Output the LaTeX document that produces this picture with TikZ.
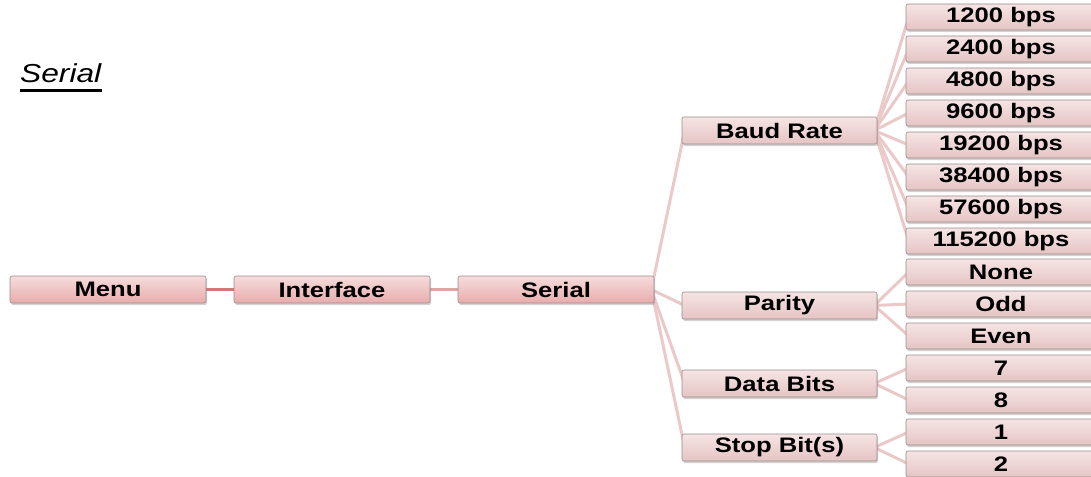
\documentclass[tikz,border=0pt]{standalone}
\usepackage{fontspec}
\setmainfont{Liberation Sans}
\newfontfamily\boxfont[FakeStretch=1.22]{Liberation Sans}
\newfontfamily\titlefont[FakeStretch=1.22]{Liberation Sans}
\usetikzlibrary{shadows,backgrounds}
\definecolor{boxtop}{HTML}{F6E4E4}
\definecolor{boxbot}{HTML}{E6C4C4}
\definecolor{maintop}{HTML}{F6DCDC}
\definecolor{mainbot}{HTML}{E8ACAC}
\definecolor{boxedge}{HTML}{9A8C8C}
\definecolor{linkc}{HTML}{EBC9C9}
\definecolor{linkdark}{HTML}{D07878}
\definecolor{linkmid}{HTML}{E0A4A4}
\tikzset{
  menubox/.style={draw=boxedge, line width=0.6pt, rounded corners=2pt,
    top color=boxtop, bottom color=boxbot, minimum height=27pt, inner sep=0pt,
    font=\boxfont\bfseries\fontsize{21}{21}\selectfont,
    drop shadow={shadow xshift=1pt, shadow yshift=-2pt, opacity=0.35}},
  mainbox/.style={menubox, top color=maintop, bottom color=mainbot, minimum width=196pt},
  midbox/.style={menubox, minimum width=195pt},
  leafbox/.style={menubox, minimum width=190pt, minimum height=26pt},
  link/.style={draw=linkc, line width=3pt},
}
\begin{document}
\begin{tikzpicture}[x=1pt,y=-1pt]
\useasboundingbox (0,0) rectangle (1091,476);
\clip (0,0) rectangle (1091,476);
% title
\node[anchor=base west, inner sep=0pt, font=\titlefont\itshape\fontsize{26}{26}\selectfont] (title) at (20,83) {Serial};
\draw[line width=2.5pt] (20,90.5) -- (102,90.5);
% main chain
\node[mainbox] (menu) at (108,289.5) {Menu};
\node[mainbox] (iface) at (332,289.5) {Interface};
\node[mainbox] (serial) at (556,289.5) {Serial};
% level 2
\node[midbox] (baud) at (779.5,130.5) {Baud Rate};
\node[midbox] (parity) at (779.5,305.5) {Parity};
\node[midbox] (data) at (779.5,383.5) {Data Bits};
\node[midbox] (stop) at (779.5,447.5) {Stop Bit(s)};
% leaves
\node[leafbox] (b1) at (1001,17) {1200 bps};
\node[leafbox] (b2) at (1001,49) {2400 bps};
\node[leafbox] (b3) at (1001,81) {4800 bps};
\node[leafbox] (b4) at (1001,113) {9600 bps};
\node[leafbox] (b5) at (1001,145) {19200 bps};
\node[leafbox] (b6) at (1001,177) {38400 bps};
\node[leafbox] (b7) at (1001,209) {57600 bps};
\node[leafbox] (b8) at (1001,241) {115200 bps};
\node[leafbox] (p1) at (1001,272) {None};
\node[leafbox] (p2) at (1001,304) {Odd};
\node[leafbox] (p3) at (1001,336) {Even};
\node[leafbox] (d1) at (1001,368) {7};
\node[leafbox] (d2) at (1001,400) {8};
\node[leafbox] (s1) at (1001,432) {1};
\node[leafbox] (s2) at (1001,464) {2};
% connectors
\begin{scope}[on background layer]
\fill[white] (0,0) rectangle (1091,476);
\draw[link, draw=linkdark] (menu.east) -- (iface.west);
\draw[link, draw=linkmid] (iface.east) -- (serial.west);
\foreach \c in {baud,parity,data,stop}
  \draw[link] ([xshift=-3pt]serial.east) -- ([xshift=3pt]\c.west);
\foreach \c in {b1,b2,b3,b4,b5,b6,b7,b8}
  \draw[link] ([xshift=-3pt]baud.east) -- ([xshift=3pt]\c.west);
\foreach \c in {p1,p2,p3}
  \draw[link] ([xshift=-3pt]parity.east) -- ([xshift=3pt]\c.west);
\foreach \c in {d1,d2}
  \draw[link] ([xshift=-3pt]data.east) -- ([xshift=3pt]\c.west);
\foreach \c in {s1,s2}
  \draw[link] ([xshift=-3pt]stop.east) -- ([xshift=3pt]\c.west);
\end{scope}
\end{tikzpicture}
\end{document}
